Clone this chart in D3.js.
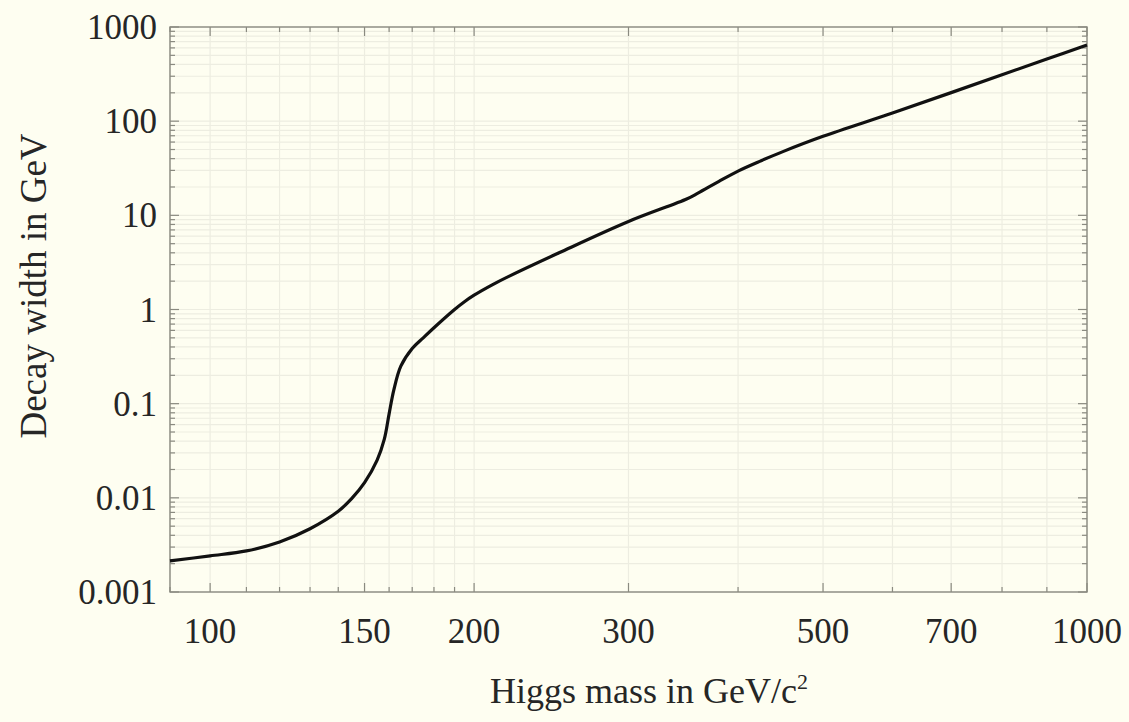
<!DOCTYPE html>
<html>
<head>
<meta charset="utf-8">
<script src="https://cdn.jsdelivr.net/npm/d3@7"></script>
<style>
  html, body { margin: 0; padding: 0; background: #fefef1; }
  svg { display: block; }
  text { font-family: "Liberation Serif", "Times New Roman", serif; fill: #262626; }
</style>
</head>
<body>
<svg id="chart" width="1129" height="722"></svg>
<script>
// Higgs mass (GeV/c^2)
const mass  = [90, 100, 110, 120, 130, 140, 145, 150, 155, 158, 160, 162, 165, 170, 175, 180, 190, 195, 200, 210, 220, 250, 300, 350, 360, 380, 400, 425, 450, 500, 600, 700, 800, 900, 1000];
// Total decay width (GeV)
const width = [0.00214, 0.00242, 0.00273, 0.0034, 0.0047, 0.0072, 0.0098, 0.0145, 0.025, 0.042, 0.078, 0.140, 0.250, 0.385, 0.50, 0.64, 1.00, 1.21, 1.42, 1.84, 2.29, 4.0, 8.6, 15.0, 17.2, 22.8, 29.5, 38, 47.5, 69, 122, 201, 311, 457, 644];

const xTickValues = [100, 150, 200, 300, 500, 700, 1000];
const xTickLabels = ["100", "150", "200", "300", "500", "700", "1000"];
const xMinor = [90, 110, 120, 130, 140, 160, 170, 180, 190, 400, 600, 800, 900];
const yTickValues = [0.001, 0.01, 0.1, 1, 10, 100, 1000];
const yTickLabels = ["0.001", "0.01", "0.1", "1", "10", "100", "1000"];
const xTitle = "Higgs mass in GeV/c";
const yTitle = "Decay width in GeV";

const L = 170, R = 1087, T = 27, B = 592;
const svg = d3.select("#chart");
svg.append("rect").attr("width", 1129).attr("height", 722).attr("fill", "#fefef1");

const x = d3.scaleLog().domain([90, 1000]).range([L, R]);
const y = d3.scaleLog().domain([0.001, 1000]).range([B, T]);

// y minor values
const yMinor = [];
for (let e = -3; e < 3; e++) for (let m = 2; m <= 9; m++) yMinor.push(m * Math.pow(10, e));

const grid = svg.append("g");
grid.selectAll("line.gx").data(xMinor.concat(xTickValues)).join("line")
  .attr("x1", d => x(d)).attr("x2", d => x(d)).attr("y1", T).attr("y2", B)
  .attr("stroke", "#edede1").attr("stroke-width", 1.2);
grid.selectAll("line.gy").data(yMinor.concat(yTickValues)).join("line")
  .attr("y1", d => y(d)).attr("y2", d => y(d)).attr("x1", L).attr("x2", R)
  .attr("stroke", "#edede1").attr("stroke-width", 1.2);

// frame ticks
const tk = svg.append("g").attr("stroke", "#8a8a80").attr("stroke-width", 1.2);
function xt(vals, len) {
  tk.selectAll(null).data(vals).join("line")
    .attr("x1", d => x(d)).attr("x2", d => x(d)).attr("y1", B).attr("y2", B - len);
  tk.selectAll(null).data(vals).join("line")
    .attr("x1", d => x(d)).attr("x2", d => x(d)).attr("y1", T).attr("y2", T + len);
}
function yt(vals, len) {
  tk.selectAll(null).data(vals).join("line")
    .attr("y1", d => y(d)).attr("y2", d => y(d)).attr("x1", L).attr("x2", L + len);
  tk.selectAll(null).data(vals).join("line")
    .attr("y1", d => y(d)).attr("y2", d => y(d)).attr("x1", R).attr("x2", R - len);
}
xt(xTickValues, 9); xt(xMinor, 5);
yt(yTickValues, 9); yt(yMinor, 5);

svg.append("rect").attr("x", L).attr("y", T).attr("width", R - L).attr("height", B - T)
  .attr("fill", "none").attr("stroke", "#8a8a80").attr("stroke-width", 1.4);

// tick labels
svg.selectAll("text.xl").data(xTickValues).join("text")
  .attr("x", d => x(d)).attr("y", 643).attr("text-anchor", "middle")
  .attr("font-size", 35).text((d, i) => xTickLabels[i]);
svg.selectAll("text.yl").data(yTickValues).join("text")
  .attr("x", 157).attr("y", d => y(d) + 12).attr("text-anchor", "end")
  .attr("font-size", 35).text((d, i) => yTickLabels[i]);

// titles
const xt1 = svg.append("text").attr("x", 649).attr("y", 703).attr("text-anchor", "middle")
  .attr("font-size", 36);
xt1.append("tspan").text(xTitle);
xt1.append("tspan").attr("dy", -14).attr("font-size", 22).text("2");

svg.append("text").attr("transform", "translate(46,286) rotate(-90)")
  .attr("text-anchor", "middle").attr("font-size", 37).text(yTitle);

// curve
const pts = mass.map((m, i) => [m, width[i]]);
const line = d3.line().x(d => x(d[0])).y(d => y(d[1])).curve(d3.curveCatmullRom.alpha(0.5));
svg.append("path").datum(pts).attr("d", line)
  .attr("fill", "none").attr("stroke", "#111").attr("stroke-width", 3.2)
  .attr("stroke-linejoin", "round");
</script>
</body>
</html>
